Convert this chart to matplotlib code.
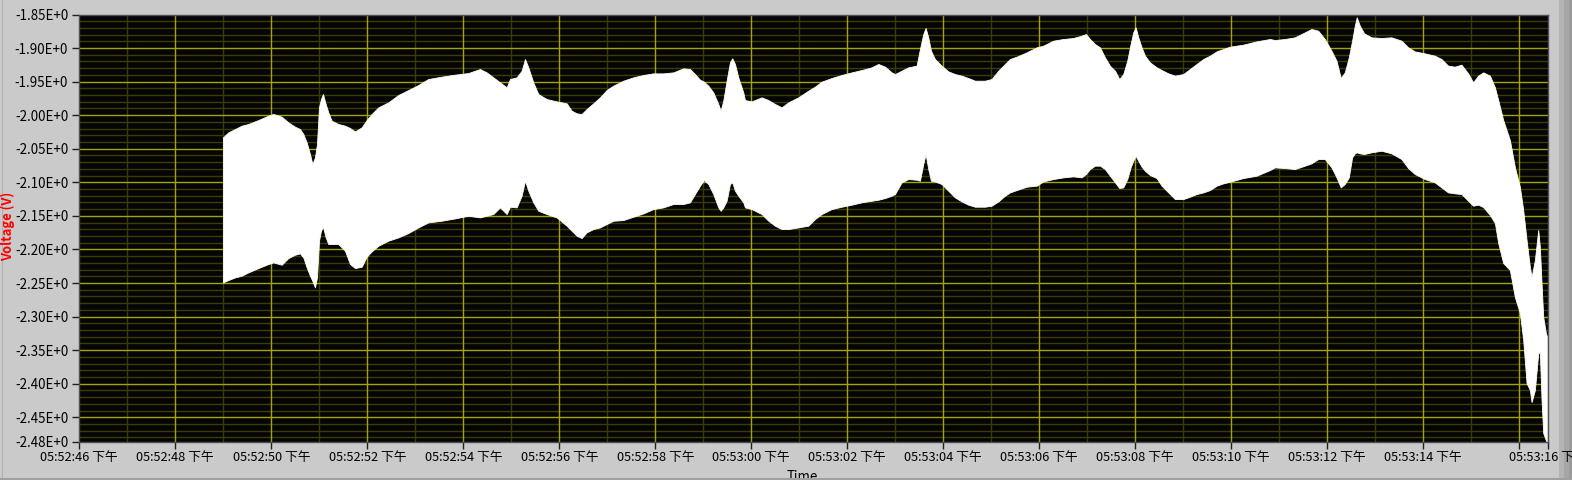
import matplotlib
matplotlib.use('Agg')
import matplotlib.pyplot as plt
from matplotlib.patches import Rectangle
import numpy as np

plt.rcParams['font.family'] = ['Noto Sans CJK SC', 'DejaVu Sans']

# seconds after 05:52:46 PM
t_sec = [2.994, 3.105, 3.244, 3.383, 3.521, 3.730, 3.938, 4.042, 4.216, 4.355,
         4.494, 4.598, 4.667, 4.737, 4.806, 4.855, 4.910, 4.952, 4.994, 5.035,
         5.077, 5.133, 5.188, 5.258, 5.396, 5.535, 5.640, 5.744, 5.883, 5.987,
         6.091, 6.230, 6.438, 6.646, 6.855, 7.063, 7.271, 7.549, 7.827, 8.105,
         8.348, 8.487, 8.626, 8.765, 8.904, 8.973, 9.112, 9.216, 9.286, 9.355,
         9.459, 9.563, 9.737, 9.945, 10.154, 10.258, 10.362, 10.466, 10.570, 10.709,
         10.848, 10.987, 11.126, 11.334, 11.542, 11.751, 11.959, 12.167, 12.376, 12.584,
         12.723, 12.827, 12.932, 13.015, 13.105, 13.209, 13.313, 13.362, 13.417, 13.487,
         13.556, 13.605, 13.661, 13.730, 13.834, 13.869, 14.008, 14.216, 14.355, 14.494,
         14.633, 14.772, 14.980, 15.188, 15.327, 15.466, 15.674, 15.883, 16.091, 16.299,
         16.508, 16.647, 16.786, 16.925, 16.994, 17.133, 17.272, 17.445, 17.515, 17.584,
         17.633, 17.688, 17.744, 17.827, 17.966, 18.105, 18.244, 18.383, 18.522, 18.661,
         18.869, 19.008, 19.147, 19.286, 19.390, 19.529, 19.737, 19.946, 20.084, 20.293,
         20.501, 20.709, 20.883, 20.973, 21.057, 21.161, 21.265, 21.369, 21.473, 21.578,
         21.668, 21.751, 21.834, 21.904, 21.959, 22.008, 22.064, 22.133, 22.203, 22.307,
         22.446, 22.550, 22.689, 22.827, 23.001, 23.140, 23.279, 23.418, 23.557, 23.696,
         23.834, 23.973, 24.251, 24.529, 24.807, 24.908, 25.116, 25.325, 25.533, 25.672,
         25.811, 25.950, 26.089, 26.193, 26.283, 26.366, 26.450, 26.519, 26.575, 26.616,
         26.679, 26.769, 26.922, 27.130, 27.339, 27.547, 27.686, 27.825, 28.033, 28.241,
         28.380, 28.519, 28.658, 28.797, 28.936, 29.040, 29.144, 29.251, 29.390, 29.494,
         29.563, 29.667, 29.806, 29.910, 30.015, 30.084, 30.154, 30.223, 30.258, 30.327,
         30.397, 30.431, 30.466, 30.501, 30.556, 30.584]

v_upper = [-2.0330, -2.0255, -2.0206, -2.0156, -2.0131, -2.0072, -2.0007, -1.9982, -2.0022, -2.0107,
           -2.0171, -2.0206, -2.0280, -2.0404, -2.0578, -2.0727, -2.0628, -2.0429, -1.9883, -1.9759,
           -1.9684, -1.9833, -1.9958, -2.0082, -2.0131, -2.0156, -2.0191, -2.0241, -2.0181, -2.0072,
           -1.9982, -1.9883, -1.9809, -1.9699, -1.9625, -1.9550, -1.9461, -1.9426, -1.9396, -1.9372,
           -1.9312, -1.9362, -1.9436, -1.9511, -1.9585, -1.9461, -1.9436, -1.9337, -1.9163, -1.9287,
           -1.9511, -1.9685, -1.9759, -1.9794, -1.9823, -1.9933, -1.9972, -1.9982, -1.9908, -1.9823,
           -1.9734, -1.9625, -1.9560, -1.9486, -1.9436, -1.9401, -1.9377, -1.9377, -1.9362, -1.9302,
           -1.9312, -1.9387, -1.9471, -1.9501, -1.9560, -1.9660, -1.9833, -1.9933, -1.9784, -1.9486,
           -1.9213, -1.9153, -1.9237, -1.9436, -1.9660, -1.9774, -1.9794, -1.9734, -1.9774, -1.9833,
           -1.9883, -1.9809, -1.9734, -1.9635, -1.9575, -1.9501, -1.9446, -1.9401, -1.9362, -1.9327,
           -1.9287, -1.9237, -1.9277, -1.9362, -1.9387, -1.9337, -1.9287, -1.9262, -1.9014, -1.8791,
           -1.8701, -1.8840, -1.9039, -1.9163, -1.9262, -1.9347, -1.9387, -1.9411, -1.9446, -1.9486,
           -1.9486, -1.9461, -1.9337, -1.9237, -1.9163, -1.9128, -1.9064, -1.8989, -1.8964, -1.8890,
           -1.8865, -1.8850, -1.8815, -1.8791, -1.8865, -1.8940, -1.8989, -1.9138, -1.9263, -1.9337,
           -1.9461, -1.9387, -1.9188, -1.8940, -1.8766, -1.8691, -1.8840, -1.8989, -1.9113, -1.9213,
           -1.9287, -1.9327, -1.9377, -1.9411, -1.9387, -1.9312, -1.9237, -1.9163, -1.9113, -1.9049,
           -1.9014, -1.8979, -1.8949, -1.8900, -1.8865, -1.8880, -1.8865, -1.8840, -1.8766, -1.8716,
           -1.8741, -1.8865, -1.9039, -1.9188, -1.9446, -1.9362, -1.9138, -1.8890, -1.8666, -1.8542,
           -1.8666, -1.8781, -1.8840, -1.8850, -1.8840, -1.8890, -1.8989, -1.9049, -1.9079, -1.9113,
           -1.9163, -1.9262, -1.9277, -1.9247, -1.9377, -1.9511, -1.9411, -1.9362, -1.9411, -1.9585,
           -1.9774, -2.0072, -2.0370, -2.0772, -2.1070, -2.1413, -2.1860, -2.2261, -2.2410, -2.2157,
           -2.1710, -2.1963, -2.2500, -2.3006, -2.3245, -2.3304]

v_lower = [-2.2490, -2.2455, -2.2416, -2.2391, -2.2341, -2.2277, -2.2217, -2.2192, -2.2227, -2.2128,
           -2.2078, -2.2058, -2.2118, -2.2267, -2.2391, -2.2466, -2.2565, -2.2416, -2.1869, -2.1721,
           -2.1661, -2.1820, -2.1919, -2.1919, -2.1919, -2.2018, -2.2217, -2.2277, -2.2257, -2.2108,
           -2.2028, -2.1944, -2.1869, -2.1820, -2.1755, -2.1671, -2.1596, -2.1572, -2.1537, -2.1497,
           -2.1522, -2.1497, -2.1472, -2.1373, -2.1472, -2.1363, -2.1373, -2.1199, -2.0976, -2.1125,
           -2.1298, -2.1423, -2.1472, -2.1522, -2.1646, -2.1720, -2.1795, -2.1830, -2.1745, -2.1696,
           -2.1671, -2.1621, -2.1572, -2.1562, -2.1512, -2.1462, -2.1398, -2.1373, -2.1323, -2.1323,
           -2.1298, -2.1174, -2.1050, -2.0966, -2.1025, -2.1174, -2.1373, -2.1423, -2.1373, -2.1274,
           -2.1025, -2.1000, -2.1125, -2.1199, -2.1298, -2.1373, -2.1398, -2.1472, -2.1571, -2.1646,
           -2.1696, -2.1696, -2.1671, -2.1646, -2.1547, -2.1472, -2.1398, -2.1363, -2.1333, -2.1298,
           -2.1274, -2.1259, -2.1234, -2.1199, -2.1174, -2.1000, -2.0951, -2.0961, -2.0976, -2.0727,
           -2.0578, -2.0802, -2.0976, -2.0986, -2.1025, -2.1125, -2.1224, -2.1284, -2.1333, -2.1363,
           -2.1363, -2.1348, -2.1284, -2.1199, -2.1150, -2.1115, -2.1065, -2.1050, -2.0986, -2.0951,
           -2.0926, -2.0911, -2.0926, -2.0876, -2.0802, -2.0752, -2.0752, -2.0802, -2.0901, -2.1000,
           -2.1085, -2.1075, -2.0951, -2.0777, -2.0678, -2.0603, -2.0678, -2.0767, -2.0827, -2.0891,
           -2.0936, -2.1050, -2.1150, -2.1249, -2.1249, -2.1214, -2.1174, -2.1150, -2.1115, -2.1050,
           -2.1015, -2.0991, -2.0936, -2.0901, -2.0817, -2.0777, -2.0787, -2.0802, -2.0752, -2.0717,
           -2.0653, -2.0653, -2.0777, -2.0926, -2.1075, -2.1025, -2.0926, -2.0628, -2.0568, -2.0553,
           -2.0568, -2.0578, -2.0553, -2.0529, -2.0568, -2.0653, -2.0787, -2.0876, -2.0951, -2.1000,
           -2.1075, -2.1150, -2.1164, -2.1174, -2.1274, -2.1348, -2.1333, -2.1368, -2.1487, -2.1606,
           -2.1904, -2.2202, -2.2306, -2.2708, -2.2947, -2.3349, -2.3990, -2.4094, -2.4273, -2.4094,
           -2.3543, -2.3543, -2.4243, -2.4735, -2.4839, -2.4914]

x_ticks = [0, 2, 4, 6, 8, 10, 12, 14, 16, 18, 20, 22, 24, 26, 28, 30, 30.59]
x_labels = ['05:52:46 下午', '05:52:48 下午', '05:52:50 下午', '05:52:52 下午', '05:52:54 下午',
            '05:52:56 下午', '05:52:58 下午', '05:53:00 下午', '05:53:02 下午', '05:53:04 下午',
            '05:53:06 下午', '05:53:08 下午', '05:53:10 下午', '05:53:12 下午', '05:53:14 下午',
            '', '05:53:16 下午']
y_ticks = [-1.85, -1.90, -1.95, -2.00, -2.05, -2.10, -2.15, -2.20, -2.25, -2.30,
           -2.35, -2.40, -2.45, -2.4863]
y_labels = ['-1.85E+0', '-1.90E+0', '-1.95E+0', '-2.00E+0', '-2.05E+0', '-2.10E+0', '-2.15E+0',
            '-2.20E+0', '-2.25E+0', '-2.30E+0', '-2.35E+0', '-2.40E+0', '-2.45E+0', '-2.48E+0']

panel = '#cacaca'
fig = plt.figure(figsize=(15.72, 4.8), dpi=100, facecolor=panel)
ax = fig.add_axes([79.3 / 1572, 1 - 441.7 / 480, (1547.5 - 79.3) / 1572, (441.7 - 14.5) / 480])
ax.set_facecolor('#050505')
ax.set_xlim(0, 30.59)
ax.set_ylim(-2.4863, -1.85)

# grid: minor every 1 s / 0.01 V, major every 2 s / 0.05 V
for xm in np.arange(1, 30.5, 1):
    major = int(round(xm)) % 2 == 0
    ax.axvline(xm, color='#a5a500' if major else '#3c3c00', lw=1.0, zorder=1 if major else 0.5)
for k in range(1, 64):
    yv = -1.85 - 0.01 * k
    major = k % 5 == 0
    ax.axhline(yv, color='#a5a500' if major else '#3c3c00', lw=1.0, zorder=1 if major else 0.5)

ax.fill_between(t_sec, v_lower, v_upper, color='white', lw=0.6, edgecolor='white', zorder=2)

ax.set_xticks(x_ticks)
ax.set_xticklabels(x_labels, fontsize=9.2)
ax.set_yticks(y_ticks)
ax.set_yticklabels(y_labels, fontsize=9.6)
ax.tick_params(axis='both', direction='out', length=5, width=1, color='#202020', pad=2)
ax.tick_params(axis='y', pad=3)
for sp in ax.spines.values():
    sp.set_color('#505050')
    sp.set_linewidth(1)

fig.text(8 / 1572, 1 - 226 / 480, 'Voltage (V)', color='#ff0000', fontsize=9.3,
         fontweight='bold', rotation=90, ha='center', va='center')
fig.text(802 / 1572, 1 - 470 / 480, 'Time', color='black', fontsize=9.6, ha='center', va='top',
         zorder=3)

# panel frame pieces
fig.patches.append(Rectangle((1559 / 1572, 0), 5 / 1572, 1, transform=fig.transFigure,
                             facecolor='#b4b4b4', edgecolor='none', zorder=-1))
fig.patches.append(Rectangle((1564 / 1572, 0), 5 / 1572, 1, transform=fig.transFigure,
                             facecolor='#a6a6a6', edgecolor='none', zorder=-1))
fig.patches.append(Rectangle((1569 / 1572, 0), 3 / 1572, 1, transform=fig.transFigure,
                             facecolor='#9a9a9a', edgecolor='none', zorder=-1))
fig.patches.append(Rectangle((0, 0), 1, 2.5 / 480, transform=fig.transFigure,
                             facecolor='#a0a0a0', edgecolor='none', zorder=4))
fig.patches.append(Rectangle((2 / 1572, 0), 1.2 / 1572, 1, transform=fig.transFigure,
                             facecolor='#b0b0b0', edgecolor='none', zorder=-1))

fig.savefig('out.png', dpi=100, facecolor=panel)
